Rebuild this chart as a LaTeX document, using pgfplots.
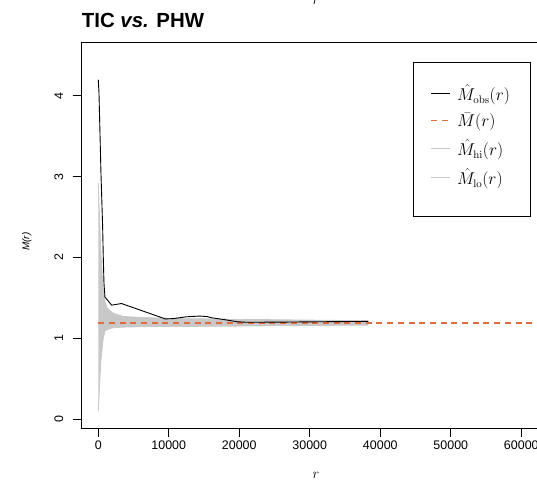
\documentclass[border=0pt]{standalone}
\usepackage[no-math]{fontspec}
\setmainfont{Liberation Sans}
\usepackage{pgfplots}
\usepackage{pgfplotstable}
\pgfplotsset{compat=1.18}
\usepgfplotslibrary{fillbetween}
\usetikzlibrary{calc}

\definecolor{bandgray}{RGB}{200,200,200}
\definecolor{nullred}{RGB}{222,108,60}

% observed curve
\pgfplotstableread{
r obs
0 4.20
100 4.04
380 3.05
620 2.38
710 2.01
810 1.68
950 1.51
1900 1.41
3300 1.43
9500 1.240
10600 1.243
12500 1.266
14400 1.275
15500 1.268
16000 1.255
17800 1.232
19700 1.205
21000 1.198
25800 1.200
32000 1.205
38300 1.209
}\obstable

% simulation envelope
\pgfplotstableread{
r hi lo
0 2.92 0.10
350 2.10 0.70
700 1.60 1.00
950 1.45 1.09
1300 1.37 1.11
2100 1.31 1.13
3500 1.27 1.138
7000 1.255 1.145
10000 1.245 1.146
15000 1.240 1.148
20000 1.235 1.151
25000 1.230 1.155
30000 1.225 1.158
38300 1.217 1.163
}\bandtable

\begin{document}
\begin{tikzpicture}
\begin{axis}[
  name=ax,
  scale only axis,
  width=468.3bp, height=386bp,
  xmin=-2350, xmax=64070,
  ymin=-0.11, ymax=4.666,
  xtick={0,10000,20000,30000,40000,50000,60000},
  ytick={0,1,2,3,4},
  xtick pos=left, ytick pos=left,
  scaled x ticks=false,
  xticklabel style={/pgf/number format/fixed, /pgf/number format/1000 sep={}},
  /pgf/number format/assume math mode=true,
  tick label style={font=\fontsize{12.5}{14}\selectfont},
  yticklabel style={rotate=90, anchor=south, yshift=6bp},
  tick align=outside,
  major tick length=9bp,
  tick style={black, line width=0.8bp},
  axis line style={line width=0.8bp},
  reverse legend,
  legend style={
    at={(rel axis cs:0.713,0.9275)}, anchor=north west,
    draw=none, fill=none,
    font=\fontsize{16}{18}\selectfont,
    inner xsep=15bp, inner ysep=12bp,
    row sep=7bp,
    cells={anchor=west},
  },
  legend image code/.code={\draw[#1] (0bp,0bp) -- (19bp,0bp); \path (23bp,0bp);},
]
\addplot[name path=lo, bandgray, line width=0.8bp] table[x=r, y=lo] {\bandtable};
\addlegendentry{$\hat{M}_{\mathrm{lo}}(r)$}
\addplot[name path=hi, bandgray, line width=0.8bp] table[x=r, y=hi] {\bandtable};
\addlegendentry{$\hat{M}_{\mathrm{hi}}(r)$}
\addplot[bandgray, forget plot] fill between[of=hi and lo];
\addplot[nullred, line width=1.3bp, dash pattern=on 6bp off 4.7bp] coordinates {(0,1.19) (70000,1.19)};
\addlegendentry{$\bar{M}(r)$}
\addplot[black, line width=0.9bp] table[x=r, y=obs] {\obstable};
\addlegendentry{$\hat{M}_{\mathrm{obs}}(r)$}
\end{axis}
% legend frame
\draw[black, line width=0.8bp] ($(ax.south west)+(331.3bp,212bp)$) rectangle ($(ax.south west)+(448.3bp,366bp)$);
\node[anchor=base west, inner sep=0, font=\fontsize{20.5}{24}\selectfont\bfseries]
  at ($(ax.north west)+(0,14.4bp)$) {TIC \textit{vs.} PHW};
\node[rotate=90, inner sep=0, font=\fontsize{10}{12}\selectfont\itshape]
  at ($(ax.south west)+(-55bp,186.3bp)$) {M(r)};
\node[anchor=base, inner sep=0, font=\fontsize{14}{16}\selectfont]
  at ($(ax.south west)+(234.3bp,-50bp)$) {$r$};
\node[anchor=base, inner sep=0, font=\fontsize{14}{16}\selectfont]
  at ($(ax.north west)+(234.3bp,37bp)$) {$r$};
\pgfresetboundingbox
\useasboundingbox ($(ax.south west)+(-81.7bp,-53bp)$) rectangle ($(ax.south west)+(455.3bp,428bp)$);
\end{tikzpicture}
\end{document}
